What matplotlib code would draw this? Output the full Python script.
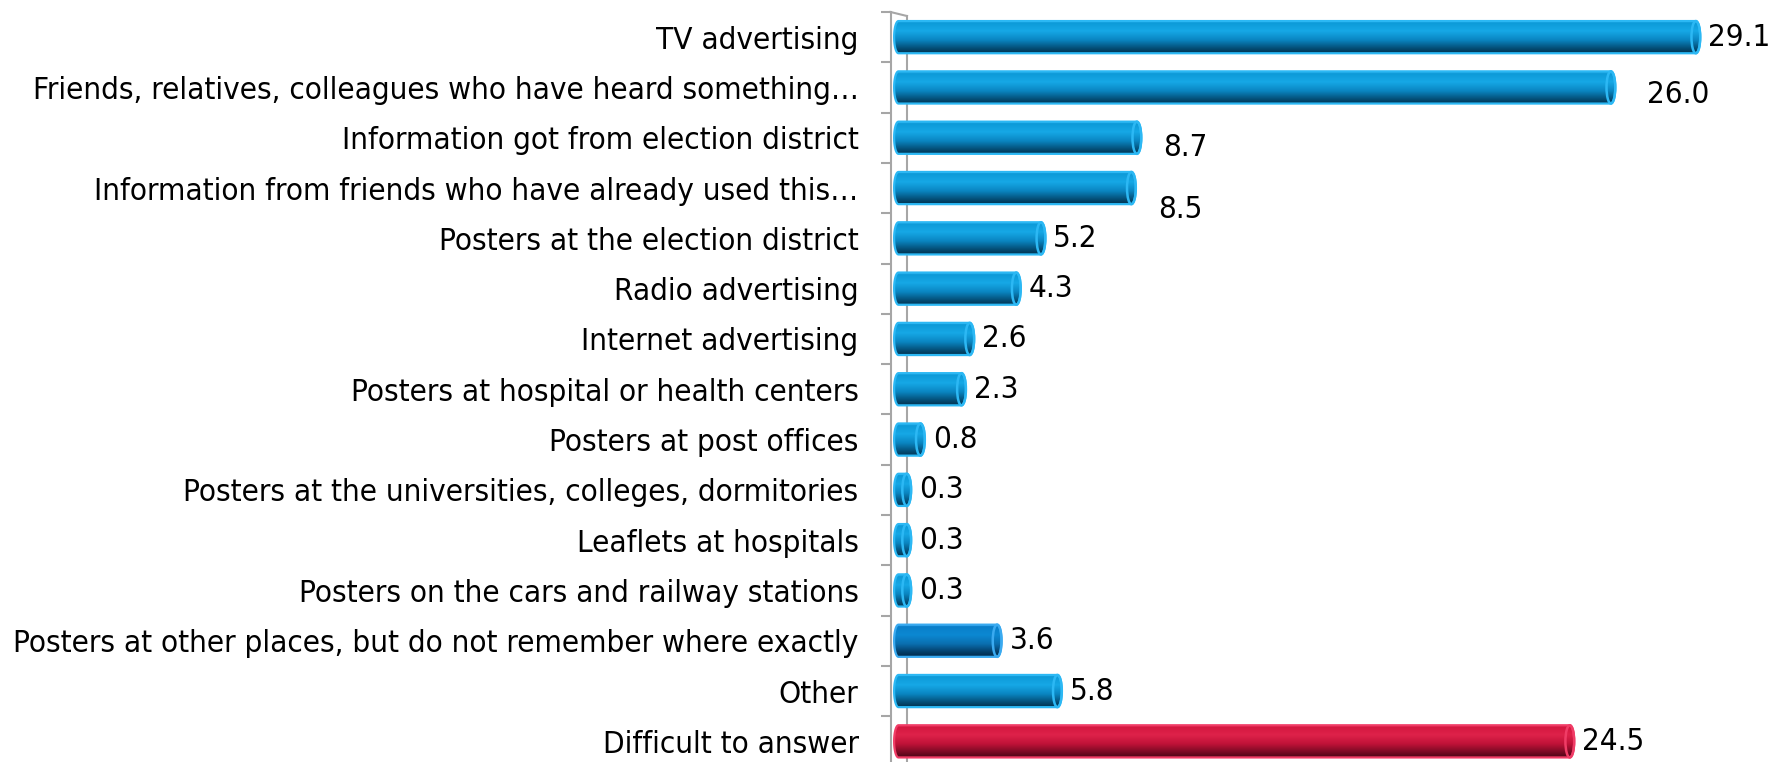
import matplotlib
matplotlib.use("Agg")
import matplotlib.pyplot as plt
import numpy as np
from matplotlib.colors import LinearSegmentedColormap
from matplotlib.path import Path
from matplotlib.patches import PathPatch, Ellipse

# Sources of information (%)
categories = [
    "TV advertising",
    "Friends, relatives, colleagues who have heard something\u2026",
    "Information got from election district",
    "Information from friends who have already used this\u2026",
    "Posters at the election district",
    "Radio advertising",
    "Internet advertising",
    "Posters at hospital or health centers",
    "Posters at post offices",
    "Posters at the universities, colleges, dormitories",
    "Leaflets at hospitals",
    "Posters on the cars and railway stations",
    "Posters at other places, but do not remember where exactly",
    "Other",
    "Difficult to answer",
]
values = [29.1, 26.0, 8.7, 8.5, 5.2, 4.3, 2.6, 2.3, 0.8, 0.3, 0.3, 0.3, 3.6, 5.8, 24.5]
value_labels = ["29.1", "26.0", "8.7", "8.5", "5.2", "4.3", "2.6", "2.3",
                "0.8", "0.3", "0.3", "0.3", "3.6", "5.8", "24.5"]
bar_styles = ["blue"] * 12 + ["darkblue", "blue", "red"]

# label offsets in pixels from the cylinder end (dx, dy down)
label_offsets = {1: (32, 7), 2: (22, 10), 3: (22, 21)}

profiles = {
    "blue": [(0.0, "#2ab4ee"), (0.08, "#0d9ad8"), (0.33, "#16a8e6"), (0.6, "#0a86c2"),
             (0.85, "#044f78"), (1.0, "#023350")],
    "darkblue": [(0.0, "#2a9ee8"), (0.08, "#0a7fca"), (0.33, "#0c88d2"), (0.6, "#0a6fb0"),
                 (0.85, "#043e68"), (1.0, "#022a48")],
    "red": [(0.0, "#ee3a64"), (0.08, "#d4173f"), (0.33, "#de224a"), (0.6, "#c01238"),
            (0.85, "#7a0a24"), (1.0, "#4e0616")],
}
edge_colors = {"blue": "#2cb8f4", "darkblue": "#3aaaf0", "red": "#f03c66"}

FONT = dict(family="DejaVu Sans", stretch="condensed", size=22.5)
GREY = "#a6a6a6"

W, H, DPI = 1777, 762, 100
fig = plt.figure(figsize=(W / DPI, H / DPI), dpi=DPI)
fig.patch.set_facecolor("white")

x_left_px, x0_px, px_per_unit = 890.5, 898.5, 27.4
top_px, row_px = 12.0, 50.3
n = len(categories)
xmin = -(x0_px - x_left_px) / px_per_unit
xmax = (W - x0_px) / px_per_unit
ax = fig.add_axes([x_left_px / W, 1 - (top_px + n * row_px) / H,
                   (W - x_left_px) / W, n * row_px / H])

ypos = np.arange(n)
bar_h = 0.64
rx = 0.16  # half-width of the elliptical end caps (data units)

bars = ax.barh(ypos, values, height=bar_h, color="none", edgecolor="none")

for i, (bar, style) in enumerate(zip(bars, bar_styles)):
    v = bar.get_width()
    yc = bar.get_y() + bar.get_height() / 2
    ry = bar.get_height() / 2
    cmap = LinearSegmentedColormap.from_list(style, profiles[style])

    # capsule outline: left half-ellipse + body + right half-ellipse
    t1 = np.linspace(-np.pi / 2, np.pi / 2, 60)
    t2 = np.linspace(np.pi / 2, 3 * np.pi / 2, 60)
    xs = np.concatenate([v + rx * np.cos(t1), rx * np.cos(t2)])
    ys = np.concatenate([yc + ry * np.sin(t1), yc + ry * np.sin(t2)])
    verts = np.column_stack([xs, ys])
    verts = np.vstack([verts, verts[:1]])
    codes = [Path.MOVETO] + [Path.LINETO] * (len(verts) - 2) + [Path.CLOSEPOLY]
    shape = PathPatch(Path(verts, codes), facecolor="none",
                      edgecolor=edge_colors[style], lw=1.6, zorder=4)
    ax.add_patch(shape)

    grad = cmap(np.linspace(0, 1, 256))[:, None, :]
    im = ax.imshow(grad, extent=(-rx, v + rx, yc + ry, yc - ry), origin="upper",
                   aspect="auto", interpolation="bilinear", zorder=3)
    im.set_clip_path(shape)

    cap = Ellipse((v, yc), 2 * rx, 2 * ry, facecolor="none",
                  edgecolor=edge_colors[style], lw=1.8, zorder=5)
    ax.add_patch(cap)

    dx, dy = label_offsets.get(i, (8, 0))
    ax.annotate(value_labels[i], xy=(v + rx, yc), xytext=(dx, -dy),
                textcoords="offset pixels", ha="left", va="center",
                color="black", zorder=6, **FONT)

# back wall line and top connector
wall_x = (907 - x0_px) / px_per_unit
ax.plot([wall_x, wall_x], [-0.42, n], color=GREY, lw=1.5, zorder=1, clip_on=False)
ax.plot([xmin, wall_x], [-0.5, -0.42], color=GREY, lw=1.5, zorder=1, clip_on=False)

ax.set_xlim(xmin, xmax)
ax.set_ylim(n - 0.5, -0.5)

for side in ("top", "right", "bottom"):
    ax.spines[side].set_visible(False)
ax.spines["left"].set_color(GREY)
ax.spines["left"].set_linewidth(1.5)
ax.set_xticks([])

ax.set_yticks(np.arange(-0.5, n, 1.0))
ax.set_yticklabels([])
ax.tick_params(axis="y", which="major", length=7.2, width=1.5, color=GREY, direction="out")
ax.set_yticks(ypos, minor=True)
ax.set_yticklabels(categories, minor=True, **FONT)
ax.tick_params(axis="y", which="minor", length=0, pad=23)

fig.savefig("out.png", dpi=DPI)
